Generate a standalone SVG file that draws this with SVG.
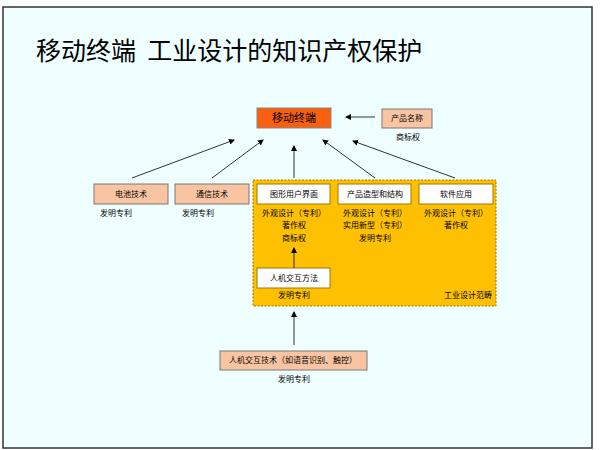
<svg xmlns="http://www.w3.org/2000/svg" width="600" height="450" viewBox="0 0 600 450">
<defs>
<style>
text{font-family:"Noto Sans CJK SC","Liberation Serif",serif;fill:#000;text-anchor:middle}
.l{font-size:8px}
.b{stroke:#777;stroke-width:1}
.p{fill:#f9c4a2}
.w{fill:#fff;stroke:#a07800;stroke-width:1}
.c line{stroke:#333;stroke-width:1;marker-end:url(#a)}
</style>
<marker id="a" markerWidth="6" markerHeight="6" refX="5" refY="3" orient="auto" markerUnits="userSpaceOnUse"><path d="M0,0L6,3L0,6z" fill="#000"/></marker>
</defs>
<rect x="0" y="0" width="600" height="450" fill="#fff"/>
<rect x="3" y="7" width="589" height="441" fill="#effefe" stroke="#333" stroke-width="1.5"/>
<text x="36" y="60" style="font-size:25px;text-anchor:start;font-family:'Noto Sans CJK SC','Liberation Sans',sans-serif">移动终端&#160;&#160;工业设计的知识产权保护</text>
<g id="scope"><rect x="253" y="180" width="243" height="126" fill="#fec000" stroke="#a07800" stroke-dasharray="2,1.5"/><text class="l" x="468" y="298">工业设计范畴</text></g>
<g id="mobile"><rect x="257" y="108" width="74" height="20" fill="#f86010" stroke="#888"/><text x="294" y="122" style="font-size:11px">移动终端</text></g>
<g id="name"><rect class="p b" x="382" y="109" width="50" height="19"/><text class="l" x="407" y="121">产品名称</text><text class="l" x="408" y="140">商标权</text></g>
<g id="battery"><rect class="p b" x="94" y="184" width="74" height="20"/><text class="l" x="131" y="197">电池技术</text><text class="l" x="116" y="216">发明专利</text></g>
<g id="comm"><rect class="p b" x="175" y="184" width="74" height="20"/><text class="l" x="212" y="197">通信技术</text><text class="l" x="198" y="216">发明专利</text></g>
<g id="gui"><rect class="w" x="257" y="184" width="73" height="20"/><text class="l" x="294" y="197">图形用户界面</text><text class="l" x="294" y="216">外观设计（专利）</text><text class="l" x="294" y="228">著作权</text><text class="l" x="294" y="241">商标权</text></g>
<g id="shape"><rect class="w" x="338" y="184" width="73" height="20"/><text class="l" x="375" y="197">产品造型和结构</text><text class="l" x="375" y="216">外观设计（专利）</text><text class="l" x="375" y="228">实用新型（专利）</text><text class="l" x="375" y="241">发明专利</text></g>
<g id="soft"><rect class="w" x="419" y="184" width="74" height="20"/><text class="l" x="456" y="197">软件应用</text><text class="l" x="456" y="216">外观设计（专利）</text><text class="l" x="456" y="228">著作权</text></g>
<g id="hci"><rect class="w" x="257" y="268" width="73" height="20"/><text class="l" x="294" y="281">人机交互方法</text><text class="l" x="294" y="298">发明专利</text></g>
<g id="hcitech"><rect class="p b" x="220" y="351" width="147" height="19"/><text class="l" x="293" y="363">人机交互技术（如语音识别、触控）</text><text class="l" x="294" y="382">发明专利</text></g>
<g class="c" id="connectors">
<line x1="375" y1="117" x2="346" y2="117"/>
<line x1="132" y1="178" x2="234" y2="140"/>
<line x1="212" y1="178" x2="263" y2="140"/>
<line x1="294" y1="178" x2="294" y2="146"/>
<line x1="375" y1="178" x2="323" y2="140"/>
<line x1="455" y1="178" x2="353" y2="141"/>
<line x1="294" y1="268" x2="294" y2="248"/>
<line x1="294" y1="345" x2="294" y2="312"/>
</g>
</svg>
